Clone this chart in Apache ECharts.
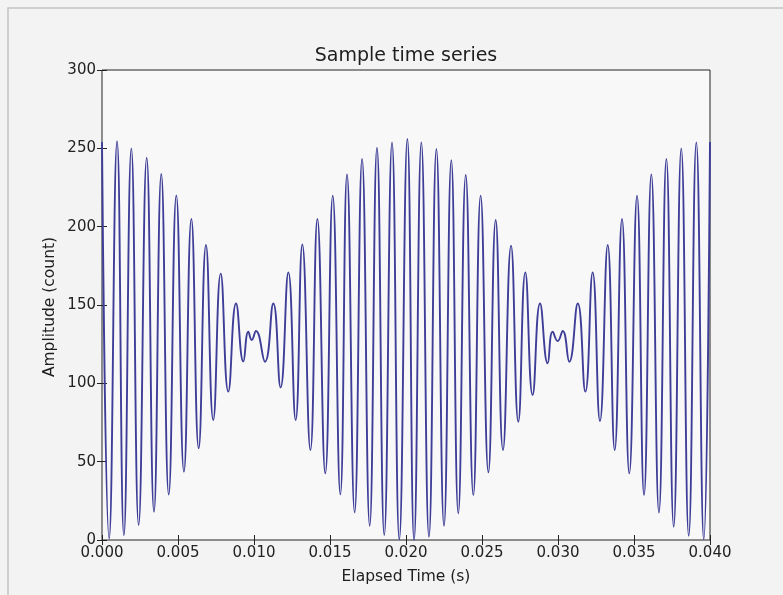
<!DOCTYPE html>
<html>
<head>
<meta charset="utf-8">
<script src="https://cdn.jsdelivr.net/npm/echarts@6/dist/echarts.min.js"></script>
<style>
html,body{margin:0;padding:0;background:#f3f3f3;}
#chart{width:783px;height:595px;}
</style>
</head>
<body>
<div id="chart"></div>
<script>
// Sample times (ms) of the read-off turning points and the amplitude (count) at each
var sampleTimeMs = [
  0.00, 0.47, 0.99, 1.44, 1.93, 2.41, 2.94, 3.42, 3.90, 4.39,
  4.89, 5.39, 5.88, 6.36, 6.84, 7.32, 7.81, 8.31, 8.82, 9.30,
  9.63, 9.85, 10.13, 10.72, 11.27, 11.75, 12.26, 12.74, 13.18, 13.71,
  14.17, 14.69, 15.18, 15.68, 16.12, 16.62, 17.11, 17.61, 18.09, 18.57,
  19.08, 19.56, 20.09, 20.53, 21.01, 21.51, 22.00, 22.50, 22.98, 23.44,
  23.93, 24.43, 24.91, 25.42, 25.90, 26.38, 26.91, 27.39, 27.85, 28.33,
  28.82, 29.32, 29.65, 29.98, 30.31, 30.74, 31.30, 31.80, 32.28, 32.76,
  33.27, 33.73, 34.21, 34.69, 35.20, 35.66, 36.14, 36.64, 37.13, 37.61,
  38.11, 38.60, 39.10, 39.59, 40.00
];
var amplitude = [
  254, 1, 254.5, 3, 250, 9.6, 244, 18, 233.6, 29,
  220, 43.6, 205, 58.5, 188.3, 76.6, 170, 94.7, 151, 114,
  133, 127.7, 133.4, 113.8, 151, 97.4, 170.8, 76.6, 188.7, 57.4,
  205, 42.5, 219.8, 29.1, 233.4, 17.6, 243.2, 9.1, 250.4, 3.2,
  253.8, 0.5, 256, 0, 253.8, 2.1, 249.6, 9.1, 242.5, 17,
  233, 28.7, 219.8, 43.2, 204.3, 57.4, 187.9, 75.5, 170.8, 92.6,
  151, 112.8, 133, 127, 133.4, 113.8, 151, 94.7, 170.8, 76,
  188.3, 57.4, 205, 42.5, 219.8, 28.7, 233.4, 17.6, 243.2, 8.5,
  250, 2.7, 253.8, 0.5, 254
];
var xTickValues = [0, 0.005, 0.01, 0.015, 0.02, 0.025, 0.03, 0.035, 0.04];
var yTickValues = [0, 50, 100, 150, 200, 250, 300];

var seriesData = sampleTimeMs.map(function (t, i) { return [t / 1000, amplitude[i]]; });

var FONT = '"DejaVu Sans", sans-serif';
var chart = echarts.init(document.getElementById('chart'), null, {renderer: 'canvas'});

var tickStyle = {show: true, inside: true, length: 5, lineStyle: {color: '#222', width: 1}};

chart.setOption({
  backgroundColor: '#f3f3f3',
  animation: false,
  grid: {
    left: 102, right: 73, top: 70, bottom: 55,
    show: true, backgroundColor: '#f8f8f8', borderColor: '#222', borderWidth: 1
  },
  xAxis: [{
    type: 'value', min: 0, max: 0.04, interval: 0.005, position: 'bottom',
    axisLine: {show: false}, axisTick: tickStyle, splitLine: {show: false},
    axisLabel: {
      color: '#222', fontFamily: FONT, fontSize: 15, margin: 6,
      formatter: function (v) { return v.toFixed(3); }
    }
  }, {
    type: 'value', min: 0, max: 0.04, interval: 0.005, position: 'top',
    axisLine: {show: false}, axisTick: tickStyle, splitLine: {show: false},
    axisLabel: {show: false}
  }],
  yAxis: [{
    type: 'value', min: 0, max: 300, interval: 50, position: 'left',
    axisLine: {show: false}, axisTick: tickStyle, splitLine: {show: false},
    axisLabel: {color: '#222', fontFamily: FONT, fontSize: 15, margin: 6}
  }, {
    type: 'value', min: 0, max: 300, interval: 50, position: 'right',
    axisLine: {show: false}, axisTick: tickStyle, splitLine: {show: false},
    axisLabel: {show: false}
  }],
  series: [{
    type: 'line',
    data: seriesData,
    xAxisIndex: 0, yAxisIndex: 0,
    smooth: 0.5,
    showSymbol: false,
    lineStyle: {color: '#3e3e98', width: 1.9}
  }],
  graphic: [
    {type: 'rect', shape: {x: 8, y: 8, width: 800, height: 600},
     style: {fill: 'none', stroke: '#c4c4c4', lineWidth: 1.5}, silent: true, z: -1},
    {type: 'text', x: 406, y: 56,
     style: {text: 'Sample time series', font: '19px ' + FONT, fill: '#1e1e1e',
             textAlign: 'center', textVerticalAlign: 'middle'}},
    {type: 'text', x: 406, y: 577,
     style: {text: 'Elapsed Time (s)', font: '15.5px ' + FONT, fill: '#1e1e1e',
             textAlign: 'center', textVerticalAlign: 'middle'}},
    {type: 'text', x: 50, y: 307, rotation: Math.PI / 2,
     style: {text: 'Amplitude (count)', font: '15.5px ' + FONT, fill: '#1e1e1e',
             textAlign: 'center', textVerticalAlign: 'middle'}}
  ]
});
</script>
</body>
</html>
